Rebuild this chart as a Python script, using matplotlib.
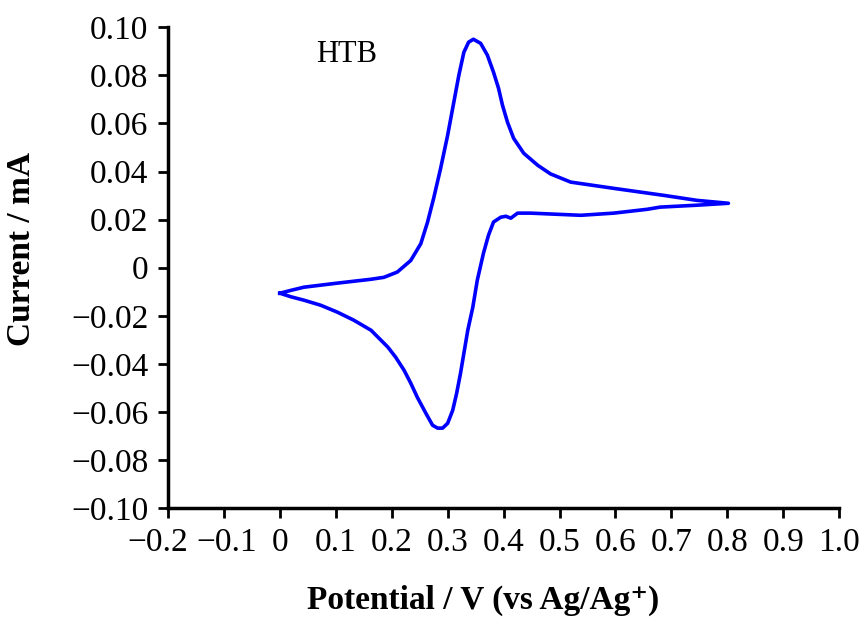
import numpy as np
import matplotlib.pyplot as plt
import matplotlib.transforms as mtransforms

plt.rcParams['font.family'] = ['Liberation Serif', 'DejaVu Serif']
plt.rcParams['axes.unicode_minus'] = True

# Anodic (forward) sweep, 0 -> 0.8 V
fwd_E = [0.0, 0.020, 0.043, 0.103, 0.163, 0.186, 0.210, 0.234, 0.252, 0.264,
         0.275, 0.2875, 0.300, 0.311, 0.320, 0.329, 0.3375, 0.346, 0.359, 0.371,
         0.382, 0.391, 0.398, 0.407, 0.418, 0.436, 0.461, 0.484, 0.520, 0.597,
         0.686, 0.746, 0.802]
fwd_I = [-0.0106, -0.0094, -0.0081, -0.0064, -0.0048, -0.0040, -0.0018, 0.0030, 0.0100, 0.0189,
         0.0289, 0.0414, 0.0551, 0.0688, 0.0800, 0.0896, 0.0938, 0.0950, 0.0933, 0.0884,
         0.0813, 0.0746, 0.0676, 0.0605, 0.0538, 0.0476, 0.0426, 0.0390, 0.0356, 0.0330,
         0.0301, 0.0280, 0.0268]

# Cathodic (reverse) sweep, 0.8 -> 0 V
rev_E = [0.802, 0.746, 0.680, 0.657, 0.597, 0.538, 0.448, 0.425, 0.413, 0.404,
         0.395, 0.382, 0.373, 0.364, 0.353, 0.345, 0.336, 0.329, 0.323, 0.316,
         0.309, 0.300, 0.291, 0.282, 0.273, 0.261, 0.246, 0.234, 0.222, 0.207,
         0.193, 0.163, 0.132, 0.103, 0.073, 0.043, 0.020, 0.0]
rev_I = [0.0268, 0.0260, 0.0252, 0.0243, 0.0227, 0.0218, 0.0227, 0.0227, 0.0206, 0.0214,
         0.0210, 0.0190, 0.0135, 0.0060, -0.0052, -0.0164, -0.0260, -0.0356, -0.0439, -0.0523,
         -0.0593, -0.0647, -0.0667, -0.0667, -0.0655, -0.0605, -0.0540, -0.0480, -0.0426, -0.0372,
         -0.0330, -0.0260, -0.0218, -0.0185, -0.0156, -0.0135, -0.0121, -0.0106]

x_ticks = [-0.2, -0.1, 0, 0.1, 0.2, 0.3, 0.4, 0.5, 0.6, 0.7, 0.8, 0.9, 1.0]
x_labels = ['\u22120.2', '\u22120.1', '0', '0.1', '0.2', '0.3', '0.4', '0.5',
            '0.6', '0.7', '0.8', '0.9', '1.0']
y_ticks = [-0.10, -0.08, -0.06, -0.04, -0.02, 0, 0.02, 0.04, 0.06, 0.08, 0.10]
y_labels = ['\u22120.10', '\u22120.08', '\u22120.06', '\u22120.04', '\u22120.02', '0',
            '0.02', '0.04', '0.06', '0.08', '0.10']

fig = plt.figure(figsize=(8.66, 6.19), dpi=100)
ax = fig.add_axes([0.194, 0.179, 0.775, 0.777])

E = fwd_E + rev_E[1:]
I = fwd_I + rev_I[1:]
ax.plot(E, I, color='#0000ff', lw=2.6, solid_joinstyle='round')

ax.set_xlim(-0.2, 1.0)
ax.set_ylim(-0.10, 0.10)
ax.set_xticks(x_ticks)
ax.set_xticklabels(x_labels)
ax.set_yticks(y_ticks)
ax.set_yticklabels(y_labels)

for s in ['top', 'right']:
    ax.spines[s].set_visible(False)
for s in ['left', 'bottom']:
    ax.spines[s].set_linewidth(2.5)
ax.tick_params(direction='out', length=7, width=2, labelsize=24)
ax.tick_params(axis='x', pad=7)
ax.tick_params(axis='y', pad=7)

# nudge the first negative labels apart like in the original
xl = ax.get_xticklabels()
xl[0].set_transform(xl[0].get_transform() + mtransforms.ScaledTranslation(-10 / 100, 0, fig.dpi_scale_trans))
xl[1].set_transform(xl[1].get_transform() + mtransforms.ScaledTranslation(3 / 100, 0, fig.dpi_scale_trans))

ax.text(0.064, 0.0855, 'HTB', fontsize=22)

ax.set_xlabel('Potential / V (vs Ag/Ag\u207a)', fontsize=24, fontweight='bold')
ax.set_ylabel('Current / mA', fontsize=24, fontweight='bold')
ax.xaxis.set_label_coords(0.469, -0.160)
ax.yaxis.set_label_coords(-0.195, 0.538)

fig.savefig('out.png', dpi=100)
